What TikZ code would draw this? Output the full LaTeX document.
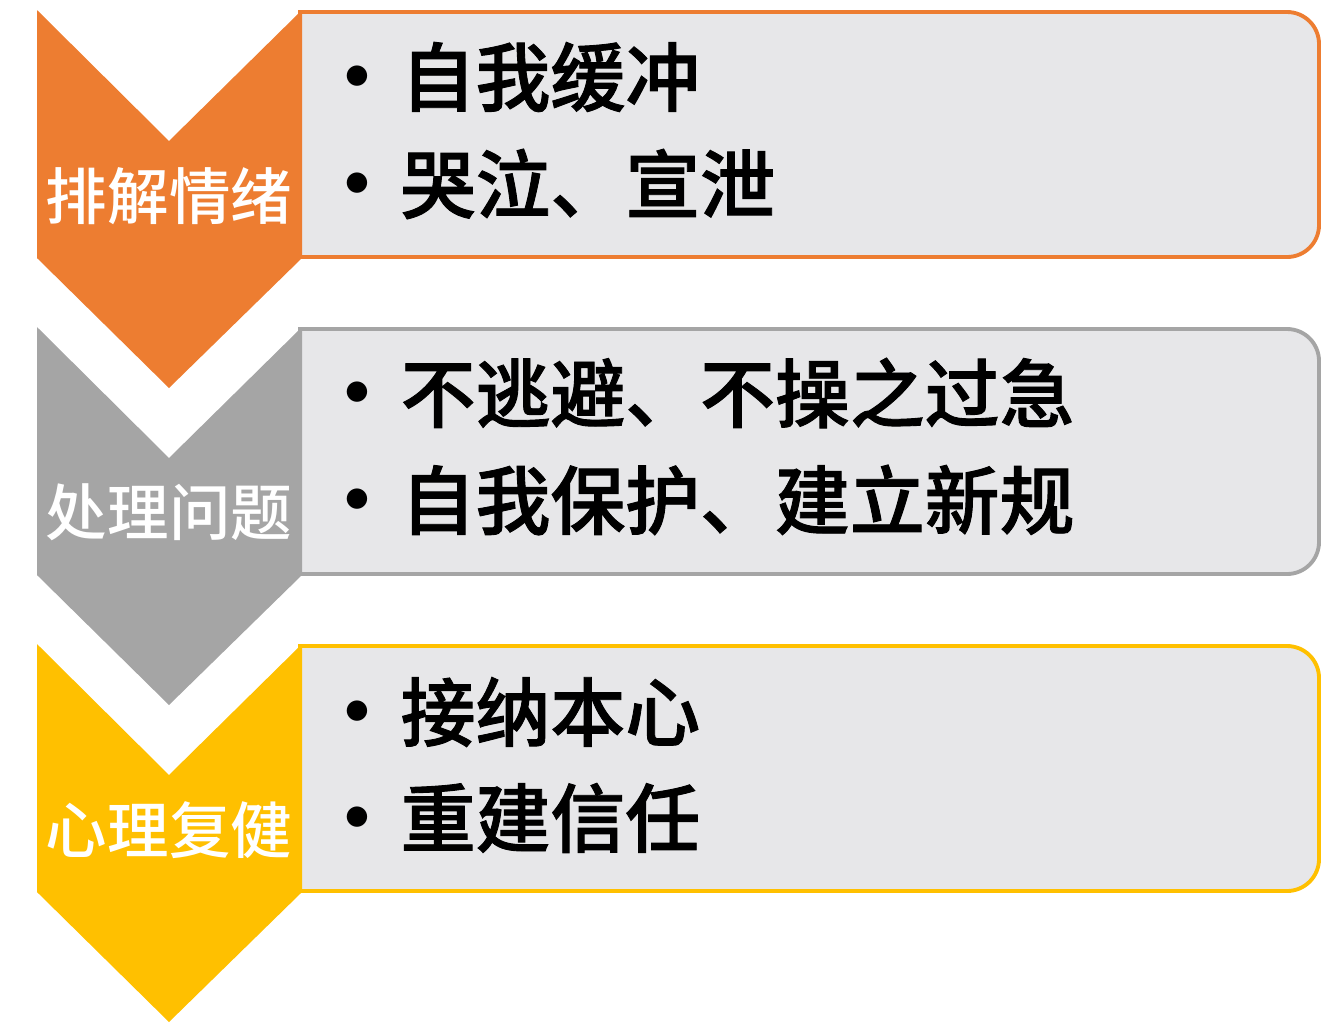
\documentclass[tikz,border=0pt]{standalone}
\usepackage{fontspec}
\newfontfamily\cjk{Noto Sans CJK SC Medium}
\newfontfamily\cjkheavy{Noto Sans CJK SC Medium}[FakeBold=1.2]
\definecolor{tangerine}{RGB}{237,125,49}
\definecolor{silver}{RGB}{165,165,165}
\definecolor{marigold}{RGB}{255,192,0}
\definecolor{mist}{RGB}{231,231,233}
\usepackage{tikz}

\begin{document}
\begin{tikzpicture}[x=0.1mm, y=-0.1mm]
	% ------------------------------------------------------------------
	% CANVAS
	% ------------------------------------------------------------------
	\useasboundingbox (0,0) rectangle (1322,1026);
	
	% ------------------------------------------------------------------
	% STYLE DEFINITIONS
	% ------------------------------------------------------------------
	\tikzset{
		panel/.style   = {draw=#1, fill=mist, line width=1.1pt},
		chevron/.style = {fill=#1},
		tag/.style     = {text=white, inner sep=0pt, font=\cjk\fontsize{17.5}{20}\selectfont},
		item/.style    = {anchor=west, inner sep=0pt, font=\cjkheavy\fontsize{21.3}{24}\selectfont},
		dotmark/.style = {inner sep=0pt, yshift=-1.1mm, font=\cjk\fontsize{25}{25}\selectfont},
	}
	
	% ------------------------------------------------------------------
	% ROWS
	% ------------------------------------------------------------------
	% 1.  排解情绪   ----  orange, top at y = 10
	\draw[panel=tangerine] (300,257) -- (300,12) -- (800,12) [rounded corners=3.2mm] -- (1319,12) -- (1319,257) -- (800,257) [sharp corners] -- (300,257);
	\fill[chevron=tangerine] (37,10) -- (169,141) -- (302,10) -- (302,258) -- (169,388) -- (37,258) -- cycle;
	\node[tag] (emotion) at (169,196) {排解情绪};
	\node[dotmark] (dotA1) at (357,77) {•};
	\node[item] (itemA1) at (400,77) {自我缓冲};
	\node[dotmark] (dotA2) at (357,184) {•};
	\node[item] (itemA2) at (400,184) {哭泣、宣泄};
	
	% 2.  处理问题   ----  gray, top at y = 327
	\draw[panel=silver] (300,574) -- (300,329) -- (800,329) [rounded corners=3.2mm] -- (1319,329) -- (1319,574) -- (800,574) [sharp corners] -- (300,574);
	\fill[chevron=silver] (37,327) -- (169,458) -- (302,327) -- (302,575) -- (169,705) -- (37,575) -- cycle;
	\node[tag] (problem) at (169,512) {处理问题};
	\node[dotmark] (dotB1) at (357,393) {•};
	\node[item] (itemB1) at (400,393) {不逃避、不操之过急};
	\node[dotmark] (dotB2) at (357,500) {•};
	\node[item] (itemB2) at (400,500) {自我保护、建立新规};
	
	% 3.  心理复健   ----  yellow, top at y = 644
	\draw[panel=marigold] (300,891) -- (300,646) -- (800,646) [rounded corners=3.2mm] -- (1319,646) -- (1319,891) -- (800,891) [sharp corners] -- (300,891);
	\fill[chevron=marigold] (37,644) -- (169,775) -- (302,644) -- (302,892) -- (169,1022) -- (37,892) -- cycle;
	\node[tag] (recovery) at (169,830) {心理复健};
	\node[dotmark] (dotC1) at (357,712) {•};
	\node[item] (itemC1) at (400,712) {接纳本心};
	\node[dotmark] (dotC2) at (357,818) {•};
	\node[item] (itemC2) at (400,818) {重建信任};
	
\end{tikzpicture}
\end{document}
